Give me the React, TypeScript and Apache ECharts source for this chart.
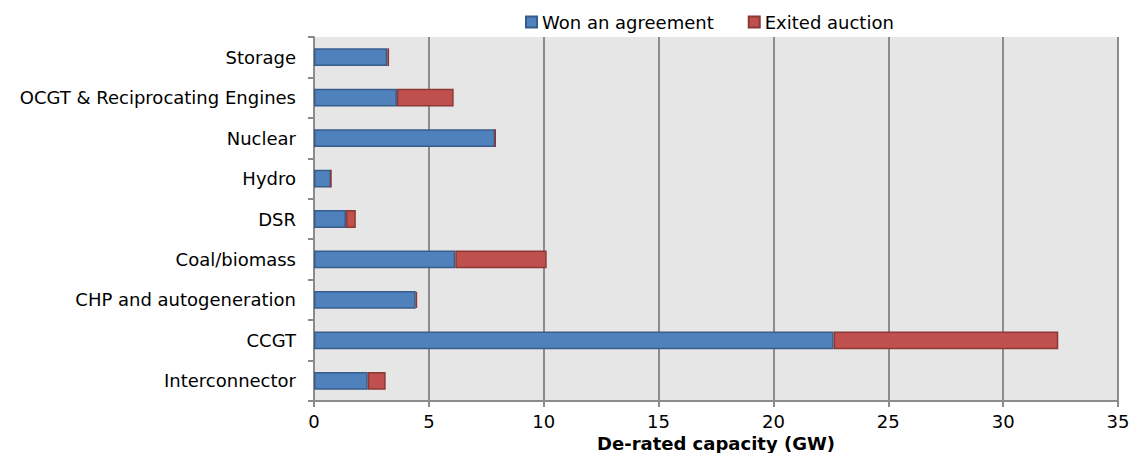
import React, { useEffect, useRef } from "react";
import * as echarts from "echarts";

const categories = [
  "Interconnector",
  "CCGT",
  "CHP and autogeneration",
  "Coal/biomass",
  "DSR",
  "Hydro",
  "Nuclear",
  "OCGT & Reciprocating Engines",
  "Storage",
];
const wonAgreement = [2.34, 22.62, 4.43, 6.15, 1.39, 0.74, 7.89, 3.61, 3.19];
const exitedAuction = [0.78, 9.78, 0.06, 3.98, 0.43, 0, 0, 2.47, 0.08];
const xTicks = [0, 5, 10, 15, 20, 25, 30, 35];

const FONT = "DejaVu Sans, Verdana, sans-serif";

export default function App() {
  const ref = useRef<HTMLDivElement>(null);
  useEffect(() => {
    if (!ref.current) return;
    const chart = echarts.init(ref.current, null, { renderer: "svg" });
    chart.setOption({
      animation: false,
      textStyle: { fontFamily: FONT },
      legend: {
        left: 525,
        top: 13,
        padding: 0,
        itemWidth: 11,
        itemHeight: 11,
        itemGap: 34,
        icon: "rect",
        textStyle: { fontSize: 18, color: "#000", fontFamily: FONT },
        data: ["Won an agreement", "Exited auction"],
      },
      grid: {
        left: 314,
        right: 12,
        top: 37,
        bottom: 52,
        show: true,
        backgroundColor: "#e6e6e6",
        borderWidth: 0,
        containLabel: false,
        outerBoundsMode: "none",
      },
      xAxis: {
        type: "value",
        min: xTicks[0],
        max: xTicks[xTicks.length - 1],
        interval: 5,
        name: "De-rated capacity (GW)",
        nameLocation: "middle",
        nameGap: 33,
        nameMoveOverlap: false,
        nameTextStyle: { fontSize: 18, lineHeight: 18, fontWeight: "bold", color: "#000", fontFamily: FONT },
        axisLine: { show: true, lineStyle: { color: "#8c8c8c", width: 2 } },
        axisTick: { show: true, length: 6, lineStyle: { color: "#8c8c8c", width: 2 } },
        splitLine: { show: true, lineStyle: { color: "#8c8c8c", width: 2 } },
        axisLabel: { color: "#000", fontSize: 18, lineHeight: 18, fontFamily: FONT, margin: 11 },
      },
      yAxis: {
        type: "category",
        data: categories,
        axisLine: { show: true, lineStyle: { color: "#8c8c8c", width: 2 } },
        axisTick: { show: true, length: 6, lineStyle: { color: "#8c8c8c", width: 2 } },
        axisLabel: { color: "#000", fontSize: 18, fontFamily: FONT, margin: 18 },
      },
      series: [
        {
          name: "Won an agreement",
          type: "bar",
          stack: "total",
          barWidth: "44%",
          data: wonAgreement,
          itemStyle: { color: "#4f81bd", borderColor: "#385d8a", borderWidth: 1.5 },
        },
        {
          name: "Exited auction",
          type: "bar",
          stack: "total",
          barWidth: "44%",
          data: exitedAuction,
          itemStyle: { color: "#c0504d", borderColor: "#8c3836", borderWidth: 1.5 },
        },
      ],
    });
    return () => chart.dispose();
  }, []);
  return <div ref={ref} style={{ width: 1130, height: 453, position: "absolute", left: 0, top: 0 }} />;
}
